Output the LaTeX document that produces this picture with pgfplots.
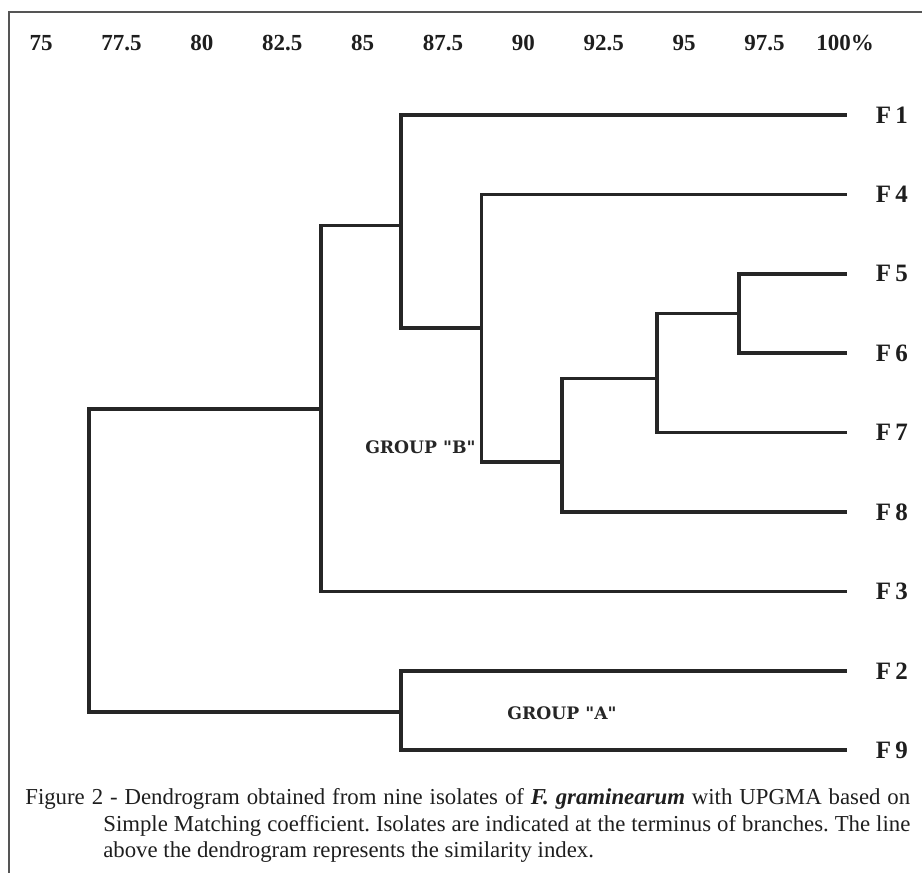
\documentclass[border=0pt]{standalone}
\usepackage{fontspec}
\setmainfont{Liberation Serif}
\newfontfamily\slabfont{DejaVu Serif}
\usepackage{pgfplots}
\pgfplotsset{compat=1.18}

\definecolor{ink}{HTML}{262626}
\definecolor{framegray}{HTML}{555555}
\definecolor{textgray}{HTML}{1E1E1E}

\begin{document}
\frenchspacing
\begin{tikzpicture}
\begin{axis}[
    name=ax,
    scale only axis,
    width=461bp, height=436.5bp,
    xmin=73.725, xmax=102.394,
    ymin=-0.547, ymax=10.448,
    clip=false,
    axis line style={draw=none},
    major tick length=0pt,
    ytick=\empty,
    xtick={75,77.5,...,100},
    xticklabels={75,77.5,80,82.5,85,87.5,90,92.5,95,97.5,100\%},
    xticklabel pos=upper,
    xticklabel style={anchor=center, yshift=-21.5bp, text=textgray,
        font=\fontsize{11.5bp}{13bp}\selectfont\bfseries},
    /pgf/number format/assume math mode=true,
    branch/.style={ink, line width=1.8bp, line cap=rect, line join=miter, mark=none},
]
% frame of the original figure (left and top edges)
\draw[framegray, line width=1bp] (axis cs:74.005,-0.6) -- (axis cs:74.005,10.297) -- (axis cs:102.5,10.297);

% dendrogram: each node drawn as (child A) -- node -- node -- (child B)
\addplot[branch] coordinates {(100,7) (96.7,7) (96.7,6) (100,6)};            % F5, F6
\addplot[branch] coordinates {(96.7,6.5) (94.15,6.5) (94.15,5) (100,5)};      % + F7
\addplot[branch] coordinates {(94.15,5.68) (91.2,5.68) (91.2,4) (100,4)};     % + F8
\addplot[branch] coordinates {(100,8) (88.7,8) (88.7,4.63) (91.2,4.63)};      % F4 +
\addplot[branch] coordinates {(100,9) (86.2,9) (86.2,6.32) (88.7,6.32)};      % F1 +
\addplot[branch] coordinates {(86.2,7.61) (83.7,7.61) (83.7,3) (100,3)};      % + F3
\addplot[branch] coordinates {(100,2) (86.2,2) (86.2,1) (100,1)};             % F2, F9
\addplot[branch] coordinates {(83.7,5.30) (76.5,5.30) (76.5,1.48) (86.2,1.48)}; % root

% isolate labels
\begin{scope}[every node/.style={anchor=west, inner sep=0pt, text=textgray,
    font=\fontsize{12.5bp}{14bp}\selectfont\bfseries}]
\node at (axis cs:100.95,9) {F\,1};
\node at (axis cs:100.95,8) {F\,4};
\node at (axis cs:100.95,7) {F\,5};
\node at (axis cs:100.95,6) {F\,6};
\node at (axis cs:100.95,5) {F\,7};
\node at (axis cs:100.95,4) {F\,8};
\node at (axis cs:100.95,3) {F\,3};
\node at (axis cs:100.95,2) {F\,2};
\node at (axis cs:100.95,1) {F\,9};
\end{scope}

% group labels
\begin{scope}[every node/.style={anchor=west, inner sep=0pt, text=ink,
    font=\slabfont\fontsize{8.6bp}{10bp}\selectfont\bfseries}]
\node at (axis cs:85.07,4.82) {GROUP "B"};
\node at (axis cs:89.49,1.47) {GROUP "A"};
\end{scope}

% caption
\node[anchor=base west, inner sep=0pt, text=textgray] at (axis cs:74.50,0.31)
  {\parbox[t]{442.5bp}{\fontsize{11.4bp}{13.25bp}\selectfont\frenchspacing
   \hangindent=39bp\hangafter=1\noindent
   Figure 2 - Dendrogram obtained from nine isolates of \textbf{\textit{F. graminearum}} with UPGMA based on\linebreak
   Simple Matching coefficient. Isolates are indicated at the terminus of branches. The line\linebreak
   above the dendrogram represents the similarity index.}};
\end{axis}
\pgfresetboundingbox
\useasboundingbox (ax.south west) rectangle (ax.north east);
\end{tikzpicture}
\end{document}
